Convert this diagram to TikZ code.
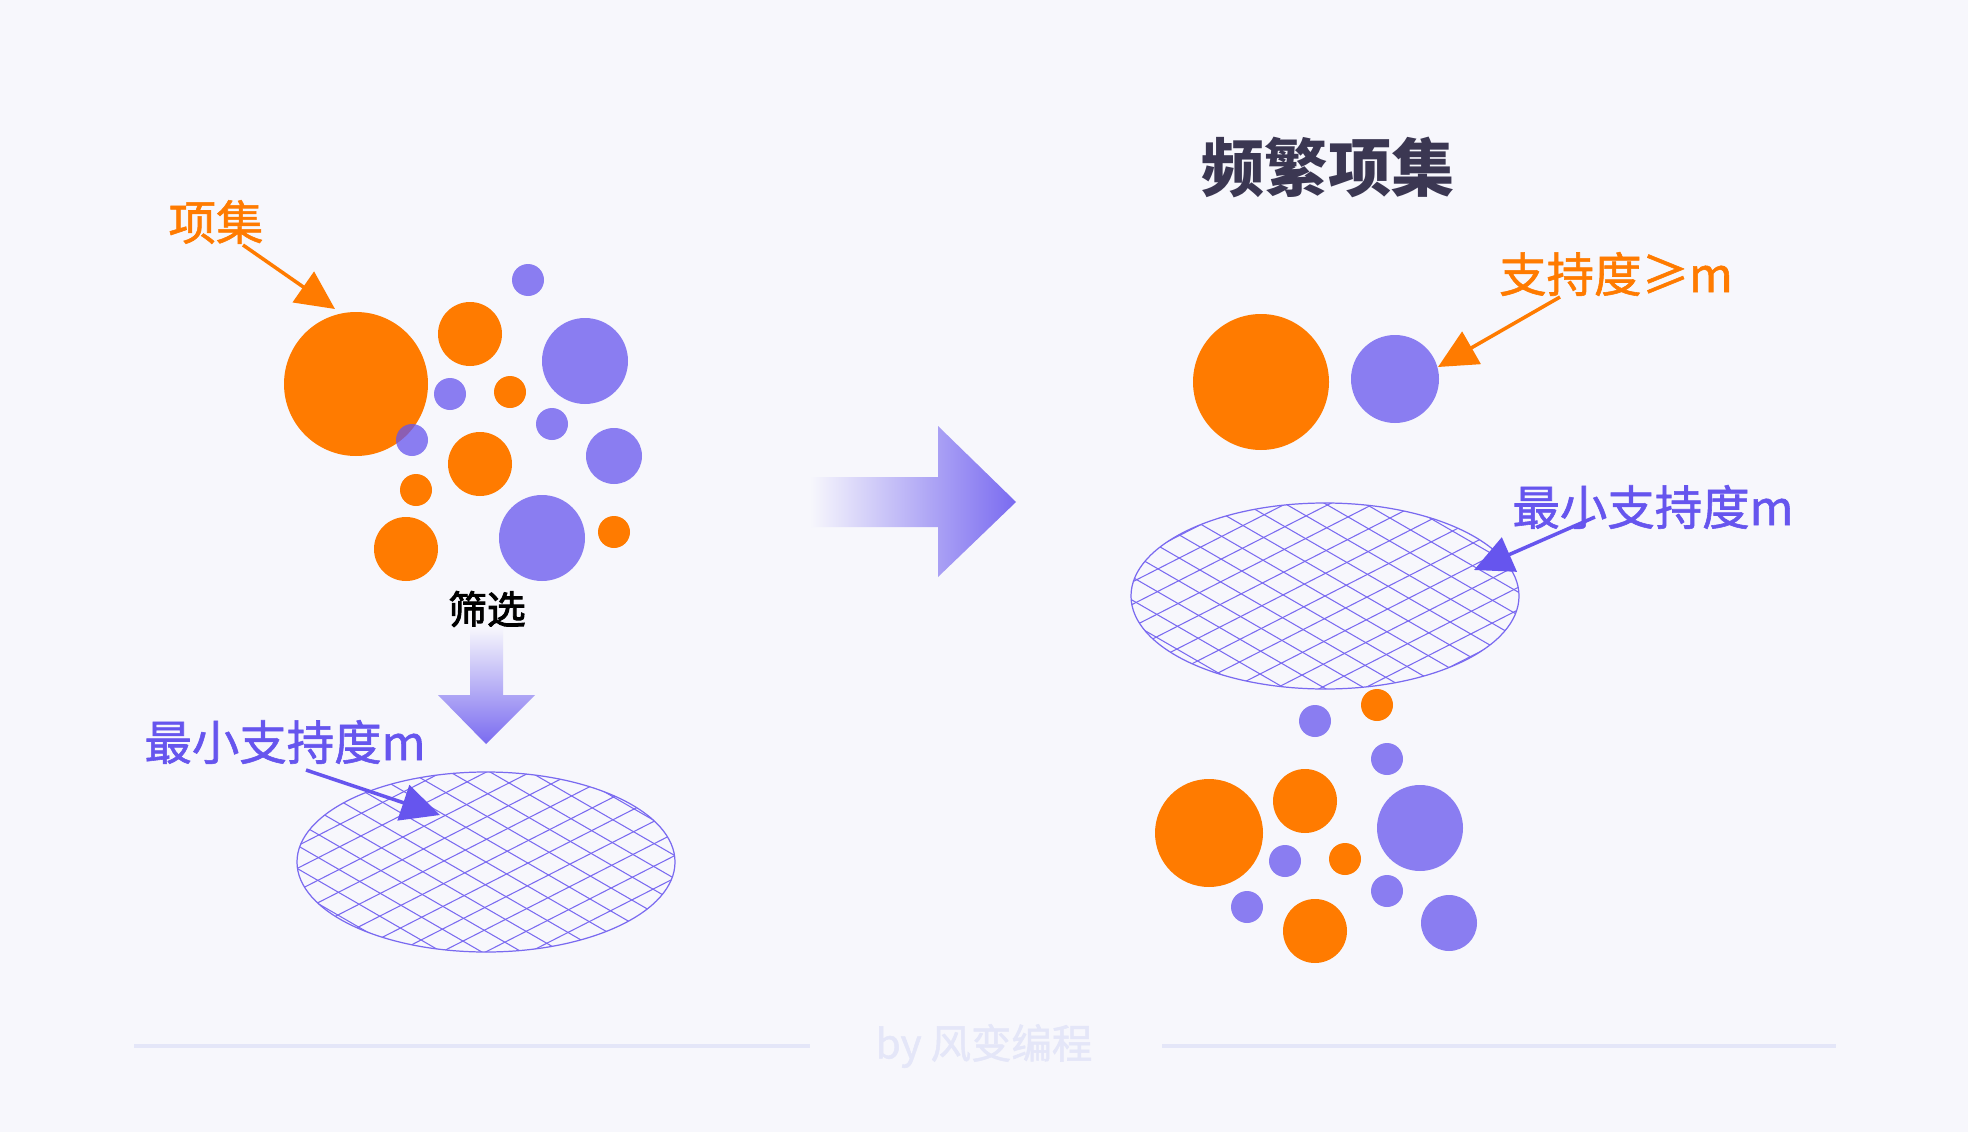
\documentclass[tikz,border=0pt]{standalone}
\usepackage{fontspec}
\usepackage{tikz}
\usetikzlibrary{arrows.meta,shapes.geometric,positioning}
\newfontfamily\cjk{Noto Sans CJK SC}[FakeBold=1.2]
\newfontfamily\cjkmed{Noto Sans CJK SC}[FakeBold=2.5]
\newfontfamily\cjkplain{Noto Sans CJK SC}
\definecolor{bgc}{HTML}{F7F7FC}
\definecolor{orng}{HTML}{FF7B00}
\definecolor{purp}{HTML}{6655EE}
\definecolor{hatchc}{HTML}{7A6AF0}
\definecolor{titlec}{HTML}{3B3752}
\definecolor{footc}{HTML}{E4E6F8}
\definecolor{tipc}{HTML}{7A6BF0}
\tikzset{
  bubO/.style  = {circle, fill=orng, inner sep=0pt},
  bubP/.style  = {circle, fill=purp, fill opacity=0.75, inner sep=0pt},
  lblO/.style  = {text=orng, inner sep=0pt,
                  font=\cjk\fontsize{27}{32}\selectfont},
  lblP/.style  = {text=purp, inner sep=0pt,
                  font=\cjk\fontsize{27}{32}\selectfont},
  title/.style = {text=titlec, inner sep=0pt,
                  font=\cjkplain\bfseries\fontsize{36}{42}\selectfont},
  sieve/.style = {ellipse, draw=hatchc, line width=0.7pt, inner sep=0pt},
  hatch/.style = {draw=hatchc, line width=0.6pt},
  arrO/.style  = {-{Triangle[length=22pt,width=21pt]}, line width=2pt, draw=orng},
  arrP/.style  = {-{Triangle[length=22pt,width=21pt]}, line width=2pt, draw=purp},
  foot/.style  = {draw=footc, line width=1.8pt}
}

\begin{document}
\begin{tikzpicture}[x=0.02cm, y=-0.02cm]
\useasboundingbox (0,0) rectangle (1968,1132);
\fill[bgc] (0,0) rectangle (1968,1132);

% left: all item sets
\foreach \x/\y/\r [count=\i] in {356/384/72, 470/334/32, 510/392/16, 480/464/32,
                                 416/490/16, 406/549/32, 614/532/16}
  \node[bubO, minimum size=2*\r*0.02cm] (lo\i) at (\x,\y) {};
\foreach \x/\y/\r [count=\i] in {528/280/16, 585/361/43, 450/394/16, 552/424/16,
                                 412/440/16, 614/456/28, 542/538/43}
  \node[bubP, minimum size=2*\r*0.02cm] (lp\i) at (\x,\y) {};

\node[lblO] (items) at (216,222) {项集};
\coordinate (itemsFrom) at (243,245);
\coordinate (itemsTip) at (335,309);
\draw[arrO] (itemsFrom) -- (itemsTip);

% filter arrow
\node[inner sep=0pt, text=black, font=\cjkmed\fontsize{22}{26}\selectfont]
  (filter) at (487,609) {筛选};
\shade[top color=bgc, bottom color=tipc]
  (470,627) -- (503,627) -- (503,695) -- (535,695) -- (486,744)
  -- (438,695) -- (470,695) -- cycle;

% left sieve
\begin{scope}
  \clip (486,862) ellipse [x radius=189, y radius=90];
  \foreach \k in {-11,...,11} {
    \draw[hatch, shift={(486,862)}, rotate=27]  (-320,\k*20) -- (320,\k*20);
    \draw[hatch, shift={(486,862)}, rotate=-30] (-320,\k*20) -- (320,\k*20);
  }
\end{scope}
\node[sieve, minimum width=378*0.02cm, minimum height=180*0.02cm] (sieveL) at (486,862) {};
\node[lblP] (minsupL) at (285,742) {最小支持度m};
\coordinate (minsupLFrom) at (306,770);
\coordinate (minsupLTip) at (440,815);
\draw[arrP] (minsupLFrom) -- (minsupLTip);

% big arrow
\shade[left color=bgc, right color=tipc]
  (810,477) -- (938,477) -- (938,426) -- (1016,502) -- (938,577)
  -- (938,527) -- (810,527) -- cycle;

% right: frequent item sets
\node[title] (freq) at (1328,167) {频繁项集};
\node[bubO, minimum size=136*0.02cm] (ro1) at (1261,382) {};
\node[bubP, minimum size=88*0.02cm]  (rp1) at (1395,379) {};
\node[lblO] (sup) at (1616,274) {支持度≥m};
\coordinate (supFrom) at (1560,297);
\coordinate (supTip) at (1438,367);
\draw[arrO] (supFrom) -- (supTip);

\begin{scope}
  \clip (1325,596) ellipse [x radius=194, y radius=93];
  \foreach \k in {-11,...,11} {
    \draw[hatch, shift={(1325,596)}, rotate=27]  (-320,\k*20) -- (320,\k*20);
    \draw[hatch, shift={(1325,596)}, rotate=-30] (-320,\k*20) -- (320,\k*20);
  }
\end{scope}
\node[sieve, minimum width=388*0.02cm, minimum height=186*0.02cm] (sieveR) at (1325,596) {};
\node[lblP] (minsupR) at (1653,507) {最小支持度m};
\coordinate (minsupRFrom) at (1595,517);
\coordinate (minsupRTip) at (1474,570);
\draw[arrP] (minsupRFrom) -- (minsupRTip);

% right: filtered out
\foreach \x/\y/\r [count=\i] in {1377/705/16, 1209/833/54, 1305/801/32,
                                 1345/859/16, 1315/931/32}
  \node[bubO, minimum size=2*\r*0.02cm] (ro\i) at (\x,\y) {};
\foreach \x/\y/\r [count=\i] in {1315/721/16, 1387/759/16, 1420/828/43, 1285/861/16,
                                 1387/891/16, 1247/907/16, 1449/923/28}
  \node[bubP, minimum size=2*\r*0.02cm] (rp\i) at (\x,\y) {};

% footer
\node[text=footc, inner sep=0pt, font=\cjk\fontsize{23}{27}\selectfont]
  (brand) at (984,1046) {by 风变编程};
\coordinate (fl1) at (134,1046);
\coordinate (fl2) at (1836,1046);
\draw[foot] (fl1) -- (810,1046);
\draw[foot] (1162,1046) -- (fl2);
\end{tikzpicture}
\end{document}
